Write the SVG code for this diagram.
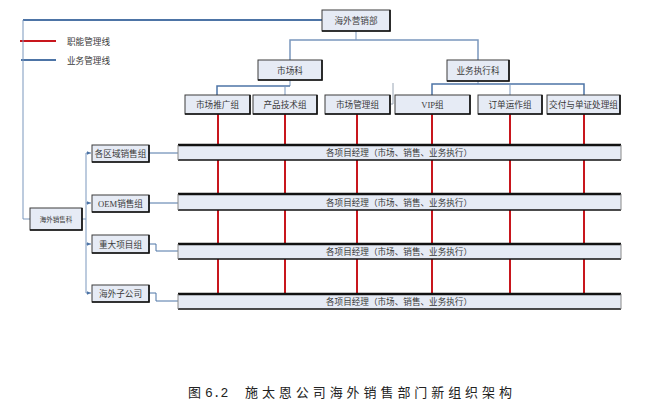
<svg xmlns="http://www.w3.org/2000/svg" width="653" height="410" viewBox="0 0 653 410">
<style>
text{font-family:"Liberation Serif","Noto Sans CJK SC",serif;fill:#3a3a3a;text-anchor:middle}
.box{fill:#e6ebf5;stroke:#3c3c3c;stroke-width:1}
.sh{fill:none;stroke:#111;stroke-width:1.6}
.bar{fill:#e6ebf5}
.bt{stroke:#111;stroke-width:2.4}
.bb{stroke:#111;stroke-width:1.4}
.bs{stroke:#8a8a8a;stroke-width:1}
.red{stroke:#c8161d;stroke-width:2;fill:none}
.blue{stroke:#4d74a6;stroke-width:2;fill:none}
.thin{stroke:#7a97bd;stroke-width:1;fill:none}
.t9{font-size:8.6px}
</style>
<defs>
<marker id="ar" markerWidth="5" markerHeight="5" refX="4.5" refY="2.5" orient="auto" markerUnits="userSpaceOnUse">
<path d="M0,0.5 L4.5,2.5 L0,4.5 Z" fill="#4d74a6"/>
</marker>
</defs>

<g id="legend">
<line x1="20" y1="41" x2="56" y2="41" class="red"/>
<text x="67" y="45" class="t9" style="text-anchor:start">职能管理线</text>
<line x1="21" y1="60" x2="56" y2="60" class="blue"/>
<text x="67" y="64" class="t9" style="text-anchor:start">业务管理线</text>
</g>

<g id="connectors">
<!-- red functional lines -->
<line x1="218" y1="114" x2="218" y2="298" class="red"/>
<line x1="285" y1="114" x2="285" y2="298" class="red"/>
<line x1="357" y1="114" x2="357" y2="298" class="red"/>
<line x1="432" y1="114" x2="432" y2="298" class="red"/>
<line x1="510" y1="114" x2="510" y2="298" class="red"/>
<line x1="584" y1="114" x2="584" y2="298" class="red"/>
<!-- top tree -->
<line x1="23" y1="20" x2="322" y2="20" class="blue"/>
<path d="M23,20 V219 H30" class="thin"/>
<path d="M356,31 V40" class="thin"/>
<path d="M290,60 V40 H478 V60" class="thin" style="stroke-width:1.5"/>
<path d="M290,80 V86" class="thin"/>
<path d="M217,95 V86 H290" class="thin" style="stroke:#4d74a6;stroke-width:1.5"/>
<path d="M285,86 V95" class="thin"/>
<path d="M390,104 H393 V83" class="thin" style="stroke:#9aa6b5"/>
<path d="M478,81 V84" class="thin"/>
<path d="M432,95 V84 H584 V95" class="thin" style="stroke:#4d74a6;stroke-width:1.5"/>
<path d="M510,84 V95" class="thin"/>
<!-- left sales tree -->
<path d="M82,219 H86" class="thin"/>
<path d="M86,153 V293" class="thin"/>
<path d="M86,153 H91" class="thin" marker-end="url(#ar)"/>
<path d="M86,203 H91" class="thin" marker-end="url(#ar)"/>
<path d="M86,244 H91" class="thin" marker-end="url(#ar)"/>
<path d="M86,293 H91" class="thin" marker-end="url(#ar)"/>
<path d="M149,153 H178" class="thin" style="stroke:#4d74a6"/>
<path d="M149,203 H178" class="thin" style="stroke:#4d74a6"/>
<path d="M149,244 H156 V251 H178" class="thin" style="stroke:#4d74a6"/>
<path d="M149,293 H156 V301 H178" class="thin" style="stroke:#4d74a6"/>
</g>

<g id="n-top"><rect x="322" y="10" width="68" height="21" class="box"/><path d="M322,31 H390 V10" class="sh"/><text x="356" y="24" class="t9">海外营销部</text></g>
<g id="n-market"><rect x="258" y="60" width="64" height="20" class="box"/><path d="M258,80 H322 V60" class="sh"/><text x="290" y="73.5" class="t9">市场科</text></g>
<g id="n-exec"><rect x="447" y="60" width="62" height="21" class="box"/><path d="M447,81 H509 V60" class="sh"/><text x="478" y="74" class="t9">业务执行科</text></g>

<g id="n-g1"><rect x="185" y="95" width="65" height="19" class="box"/><path d="M185,114 H250 V95" class="sh"/><text x="217.5" y="108" class="t9">市场推广组</text></g>
<g id="n-g2"><rect x="253" y="95" width="64" height="19" class="box"/><path d="M253,114 H317 V95" class="sh"/><text x="285" y="108" class="t9">产品技术组</text></g>
<g id="n-g3"><rect x="325" y="95" width="65" height="19" class="box"/><path d="M325,114 H390 V95" class="sh"/><text x="357.5" y="108" class="t9">市场管理组</text></g>
<g id="n-g4"><rect x="395" y="95" width="75" height="19" class="box"/><path d="M395,114 H470 V95" class="sh"/><text x="432.5" y="108" class="t9">VIP组</text></g>
<g id="n-g5"><rect x="478" y="95" width="64" height="19" class="box"/><path d="M478,114 H542 V95" class="sh"/><text x="510" y="108" class="t9">订单运作组</text></g>
<g id="n-g6"><rect x="547" y="95" width="73" height="19" class="box"/><path d="M547,114 H620 V95" class="sh"/><text x="583.5" y="108" class="t9">交付与单证处理组</text></g>

<g id="n-sales"><rect x="30" y="208" width="52" height="22" class="box"/><path d="M30,230 H82 V208" class="sh"/><text x="56" y="222" style="font-size:6.5px">海外销售科</text></g>

<g id="n-s1"><rect x="92" y="145" width="57" height="17" class="box"/><path d="M92,162 H149 V145" class="sh"/><text x="120.5" y="157" class="t9">各区域销售组</text></g>
<g id="n-s2"><rect x="92" y="195" width="57" height="17" class="box"/><path d="M92,212 H149 V195" class="sh"/><text x="120.5" y="207" class="t9">OEM销售组</text></g>
<g id="n-s3"><rect x="92" y="235" width="57" height="18" class="box"/><path d="M92,253 H149 V235" class="sh"/><text x="120.5" y="247.5" class="t9">重大项目组</text></g>
<g id="n-s4"><rect x="92" y="285" width="57" height="17" class="box"/><path d="M92,302 H149 V285" class="sh"/><text x="120.5" y="297" class="t9">海外子公司</text></g>

<g id="n-bar1"><rect x="178" y="145" width="443" height="15" class="bar"/><line x1="178" y1="145" x2="621" y2="145" class="bt"/><line x1="178" y1="160" x2="621" y2="160" class="bb"/><line x1="178" y1="145" x2="178" y2="160" class="bs"/><line x1="621" y1="145" x2="621" y2="160" class="bs"/><text x="399" y="156" class="t9">各项目经理（市场、销售、业务执行）</text></g>
<g id="n-bar2"><rect x="178" y="194" width="443" height="16" class="bar"/><line x1="178" y1="194" x2="621" y2="194" class="bt"/><line x1="178" y1="210" x2="621" y2="210" class="bb"/><line x1="178" y1="194" x2="178" y2="210" class="bs"/><line x1="621" y1="194" x2="621" y2="210" class="bs"/><text x="399" y="205.5" class="t9">各项目经理（市场、销售、业务执行）</text></g>
<g id="n-bar3"><rect x="178" y="244" width="443" height="15" class="bar"/><line x1="178" y1="244" x2="621" y2="244" class="bt"/><line x1="178" y1="259" x2="621" y2="259" class="bb"/><line x1="178" y1="244" x2="178" y2="259" class="bs"/><line x1="621" y1="244" x2="621" y2="259" class="bs"/><text x="399" y="255" class="t9">各项目经理（市场、销售、业务执行）</text></g>
<g id="n-bar4"><rect x="178" y="294" width="443" height="15" class="bar"/><line x1="178" y1="294" x2="621" y2="294" class="bt"/><line x1="178" y1="309" x2="621" y2="309" class="bb"/><line x1="178" y1="294" x2="178" y2="309" class="bs"/><line x1="621" y1="294" x2="621" y2="309" class="bs"/><text x="399" y="305" class="t9">各项目经理（市场、销售、业务执行）</text></g>

<g id="caption">
<text x="188" y="397" style="font-size:13px;text-anchor:start;fill:#222">图</text>
<text x="205" y="397" style="font-size:13px;text-anchor:start;fill:#222;font-family:'Liberation Mono',monospace">6.2</text>
<text x="245" y="397" style="font-size:13px;text-anchor:start;fill:#222" textLength="267" lengthAdjust="spacing">施太恩公司海外销售部门新组织架构</text>
</g>
</svg>
